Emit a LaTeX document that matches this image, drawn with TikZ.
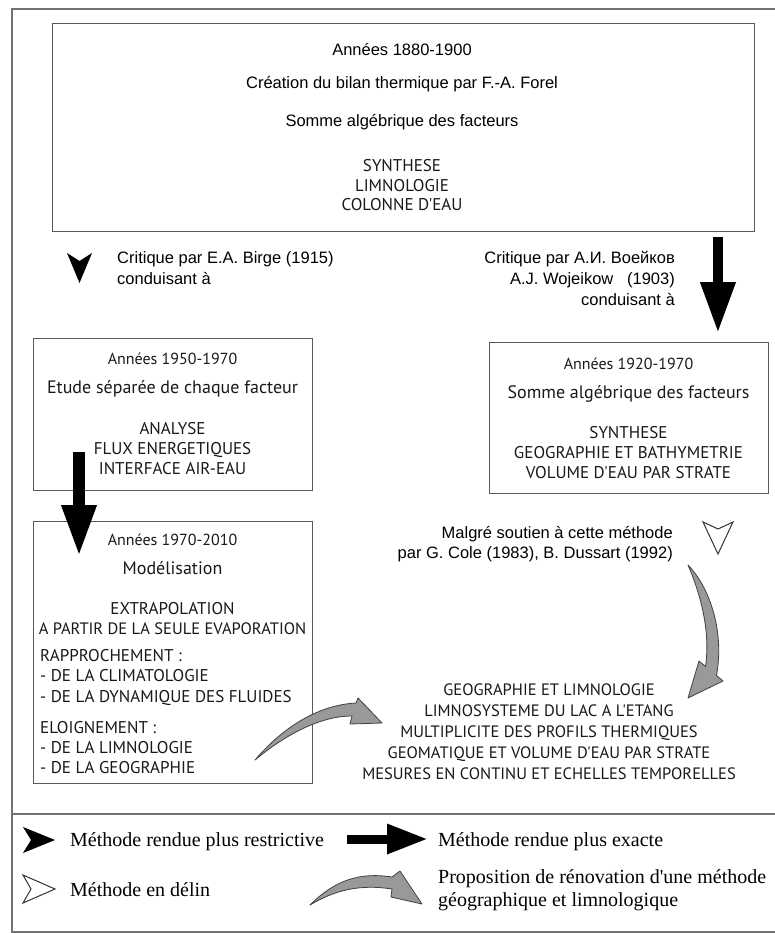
\documentclass[tikz,border=0pt]{standalone}
\usepackage{fontspec}
\setmainfont{Liberation Sans}
\newfontfamily\ptfont{PT Sans}
\newfontfamily\lserif{Liberation Serif}
\usetikzlibrary{arrows.meta,calc}

\begin{document}
\begin{tikzpicture}[x=1pt,y=-1pt,
  frameline/.style={draw=black!55, line width=1.2pt},
  boxst/.style={draw=black!65, line width=1.2pt, rectangle, inner sep=0pt, anchor=north west},
  ar/.style={font=\fontsize{16.5}{19}\selectfont, inner sep=0pt, anchor=base},
  pt/.style={font=\ptfont\fontsize{17}{19}\selectfont, inner sep=0pt, anchor=base, text=black!90},
  ptm/.style={pt, font=\ptfont\fontsize{18}{20}\selectfont},
  pty/.style={pt, font=\ptfont\fontsize{16}{19}\selectfont},
  ptr/.style={pt, font=\ptfont\fontsize{16.5}{19}\selectfont},
  ptl/.style={pt, anchor=base west},
  lg/.style={font=\lserif\fontsize{20}{23}\selectfont, inner sep=0pt, anchor=base west},
  bigarrow/.style={draw=black, line width=#1},
  curved/.style={fill=black!40, draw=black!75, line width=0.8pt, line join=round}
]
% canvas
\fill[white] (0,0) rectangle (775,933);
\useasboundingbox (0,0) rectangle (775,933);

% outer frame
\draw[frameline] (775,9) -- (12,9) -- (12,932) -- (775,932);
\draw[frameline] (12,814) -- (775,814);

% boxes
\node[boxst, minimum width=702, minimum height=208] (top) at (52,23) {};
\node[boxst, minimum width=279, minimum height=152] (etude) at (33,338) {};
\node[boxst, minimum width=279, minimum height=151] (somme) at (489,342) {};
\node[boxst, minimum width=279, minimum height=262] (model) at (33,521) {};

% top box text
\node[ar] (t1) at (402,56) {Années 1880-1900};
\node[ar] (t2) at (402,89) {Création du bilan thermique par F.-A. Forel};
\node[ar] (t3) at (402,127) {Somme algébrique des facteurs};
\node[pt] (t4) at (402,172) {SYNTHESE};
\node[pt] (t5) at (402,192) {LIMNOLOGIE};
\node[pt] (t6) at (402,211) {COLONNE D'EAU};

% critiques
\node[ar, anchor=base west] (c1) at (117,263) {Critique par E.A. Birge (1915)};
\node[ar, anchor=base west] (c2) at (117,284) {conduisant à};
\node[ar, anchor=base east] (c3) at (675,263) {Critique par А.И. Воейков};
\node[ar, anchor=base east] (c4) at (675,284) {A.J. Wojeikow \ \ (1903)};
\node[ar, anchor=base east] (c5) at (675,305) {conduisant à};

% etude box
\node[pty] (e1) at (172.5,364) {Années 1950-1970};
\node[ptm] (e2) at (172.5,393) {Etude séparée de chaque facteur};
\node[pt] (e3) at (172.5,434) {ANALYSE};
\node[pt] (e4) at (172.5,454) {FLUX ENERGETIQUES};
\node[pt] (e5) at (172.5,474) {INTERFACE AIR-EAU};

% somme box
\node[pty] (s1) at (628.5,369) {Années 1920-1970};
\node[ptm] (s2) at (628.5,398) {Somme algébrique des facteurs};
\node[pt] (s3) at (628.5,438) {SYNTHESE};
\node[pt] (s4) at (628.5,458) {GEOGRAPHIE ET BATHYMETRIE};
\node[pt] (s5) at (628.5,478) {VOLUME D'EAU PAR STRATE};

% model box
\node[pty] (m1) at (172.5,545) {Années 1970-2010};
\node[ptm] (m2) at (172.5,574) {Modélisation};
\node[pt] (m3) at (172.5,614) {EXTRAPOLATION};
\node[ptr] (m4) at (172.5,634) {A PARTIR DE LA SEULE EVAPORATION};
\node[ptl] (m5) at (40,661) {RAPPROCHEMENT :};
\node[ptl] (m6) at (40,681) {- DE LA CLIMATOLOGIE};
\node[ptl] (m7) at (40,702) {- DE LA DYNAMIQUE DES FLUIDES};
\node[ptl] (m8) at (40,733) {ELOIGNEMENT :};
\node[ptl] (m9) at (40,753) {- DE LA LIMNOLOGIE};
\node[ptl] (m10) at (40,773) {- DE LA GEOGRAPHIE};

% malgre
\node[ar, anchor=base east] (g1) at (673,538) {Malgré soutien à cette méthode};
\node[ar, anchor=base east] (g2) at (673,558) {par G. Cole (1983), B. Dussart (1992)};

% result text
\node[ptr] (r1) at (549,695) {GEOGRAPHIE ET LIMNOLOGIE};
\node[ptr] (r2) at (549,716) {LIMNOSYSTEME DU LAC A L'ETANG};
\node[ptr] (r3) at (549,737) {MULTIPLICITE DES PROFILS THERMIQUES};
\node[ptr] (r4) at (549,758) {GEOMATIQUE ET VOLUME D'EAU PAR STRATE};
\node[ptr] (r5) at (549,779) {MESURES EN CONTINU ET ECHELLES TEMPORELLES};

% big arrows
\coordinate (ra) at ($(top.south west)!0.947!(top.south east)+(0,5)$);
\coordinate (rb) at (ra |- 333,333);
\draw[bigarrow=10pt, -{Triangle[length=51pt, width=33pt]}] (ra) -- (rb);
\coordinate (la) at (79,452);
\coordinate (lb) at (79,557);
\draw[bigarrow=12pt, -{Triangle[length=52pt, width=32pt]}] (la) -- (lb);

% small arrowheads
\fill[black] (67,253) -- (79.5,283) -- (92,253) -- (79.5,261) -- cycle;
\draw[black!80, line width=1pt, line join=miter, fill=white] (703,522) -- (718,554) -- (733,522) -- (718,529) -- cycle;

% curved arrows
\path[curved] (688,565) .. controls (712,590) and (724,635) .. (716.5,675.5) -- (723,681) -- (688,698) -- (699,661) -- (705.5,666.5) .. controls (710,635) and (703,600) .. cycle;
\path[curved] (255,760) .. controls (285,725) and (320,705) .. (356,703) -- (358,698) -- (382,723) -- (350,724) -- (352,716) .. controls (320,716) and (285,735) .. cycle;

% legend
\fill[black] (23,827) -- (55,840) -- (23,853) -- (31,840) -- cycle;
\node[lg] (l1) at (70,846) {Méthode rendue plus restrictive};
\coordinate (lga) at (347,839);
\coordinate (lgb) at (428,839);
\draw[bigarrow=9pt, -{Triangle[length=41pt, width=28pt]}] (lga) -- (lgb);
\node[lg] (l2) at (438,846) {Méthode rendue plus exacte};
\draw[black!80, line width=1pt, fill=white] (23,875) -- (55,889) -- (23,903) -- (31,889) -- cycle;
\node[lg] (l3) at (70,896) {Méthode en délin};
\path[curved] (310,905) .. controls (335,880) and (360,872) .. (392,877) -- (400,871) -- (422,904) -- (391,897) -- (392,889) .. controls (360,884) and (335,890) .. cycle;
\node[lg] (l4) at (438,883) {Proposition de rénovation d'une méthode};
\node[lg] (l5) at (438,906) {géographique et limnologique};
\end{tikzpicture}
\end{document}
